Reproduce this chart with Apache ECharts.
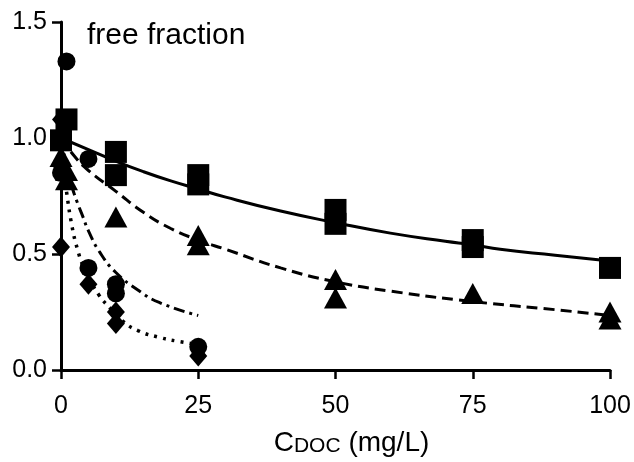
<!DOCTYPE html>
<html>
<head>
<meta charset="utf-8">
<script src="https://cdn.jsdelivr.net/npm/echarts@6/dist/echarts.min.js"></script>
<style>
  html, body { margin: 0; padding: 0; background: #fff; }
  #chart { width: 634px; height: 462px; }
</style>
</head>
<body>
<div id="chart"></div>
<script>
// Axis ticks
const xTicks = [0, 25, 50, 75, 100];
const yTicks = [0, 0.5, 1.0, 1.5];

// Measured free fractions, [C_DOC (mg/L), fraction]
const squarePts   = [[0, 0.99], [1, 1.08], [10, 0.94], [10, 0.84], [25, 0.84], [25, 0.80],
                     [50, 0.69], [50, 0.63], [75, 0.56], [75, 0.53], [100, 0.44]];
const trianglePts = [[0, 0.92], [1, 0.86], [1, 0.82], [10, 0.66], [25, 0.58], [25, 0.54],
                     [50, 0.39], [50, 0.31], [75, 0.33], [100, 0.25], [100, 0.22]];
const circlePts   = [[1, 1.33], [0, 0.85], [5, 0.91], [5, 0.44], [10, 0.37], [10, 0.33], [25, 0.10]];
const diamondPts  = [[0, 1.08], [0, 0.88], [0, 0.53], [5, 0.37], [10, 0.25], [10, 0.20], [25, 0.06]];

// Fitted curves
const solidFit   = [[0, 1.0], [5, 0.95], [10, 0.90], [15, 0.855], [20, 0.815], [25, 0.78], [30, 0.745],
                    [40, 0.685], [50, 0.635], [60, 0.59], [70, 0.555], [75, 0.54], [80, 0.52],
                    [90, 0.495], [100, 0.47]];
const dashedFit  = [[0, 1.0], [2.5, 0.92], [5, 0.86], [10, 0.77], [15, 0.68], [20, 0.61], [25, 0.56],
                    [30, 0.52], [40, 0.44], [50, 0.38], [60, 0.34], [75, 0.295], [90, 0.26], [100, 0.235]];
const dashDotFit = [[0, 1.0], [1, 0.88], [2, 0.79], [3, 0.72], [4, 0.66], [5, 0.60], [7, 0.51],
                    [10, 0.42], [14, 0.345], [18, 0.29], [25, 0.235]];
const dottedFit  = [[0, 1.0], [0.5, 0.87], [1, 0.77], [2, 0.62], [3, 0.52], [4, 0.45], [5, 0.40],
                    [7, 0.32], [9, 0.265], [11, 0.215], [14, 0.17], [18, 0.14], [21, 0.125], [25, 0.11]];

const FONT = '"Liberation Sans", Arial, Helvetica, sans-serif';
const INK = '#000';

function fitLine(data, type, width) {
  return {
    type: 'line', data: data, smooth: true, showSymbol: false, silent: true, z: 2,
    lineStyle: { color: INK, width: width, type: type, cap: 'butt' }
  };
}
function marks(data, symbol, size) {
  return {
    type: 'scatter', data: data, symbol: symbol, symbolSize: size, z: 3,
    itemStyle: { color: INK, opacity: 1 }
  };
}

const chart = echarts.init(document.getElementById('chart'), null, { renderer: 'canvas' });
chart.setOption({
  animation: false,
  backgroundColor: '#fff',
  grid: { left: 61, right: 24, top: 22, bottom: 88, containLabel: false },
  xAxis: {
    type: 'value', min: xTicks[0], max: xTicks[xTicks.length - 1], interval: 25,
    name: '{c|C}{s|DOC}{n| (mg/L)}',
    nameLocation: 'middle', nameGap: 59,
    nameTextStyle: {
      padding: [0, 0, 0, 32],
      rich: {
        c: { fontFamily: FONT, fontSize: 28, color: INK, verticalAlign: 'bottom' },
        s: { fontFamily: FONT, fontSize: 21, color: INK, verticalAlign: 'bottom' },
        n: { fontFamily: FONT, fontSize: 28, color: INK, verticalAlign: 'bottom' }
      }
    },
    axisLine: { show: true, onZero: false, lineStyle: { color: INK, width: 3 } },
    axisTick: { show: true, inside: false, length: 9, lineStyle: { color: INK, width: 2.5 } },
    axisLabel: { color: INK, fontFamily: FONT, fontSize: 25, margin: 24 },
    splitLine: { show: false }
  },
  yAxis: {
    type: 'value', min: yTicks[0], max: yTicks[yTicks.length - 1], interval: 0.5,
    axisLine: { show: true, onZero: false, lineStyle: { color: INK, width: 3 } },
    axisTick: { show: true, inside: false, length: 9, lineStyle: { color: INK, width: 2.5 } },
    axisLabel: {
      color: INK, fontFamily: FONT, fontSize: 25, margin: 14,
      formatter: v => v.toFixed(1)
    },
    splitLine: { show: false }
  },
  graphic: [{
    type: 'text', left: 87, top: 21, z: 10,
    style: { text: 'free fraction', fontFamily: FONT, fontSize: 30, fill: INK }
  }],
  series: [
    fitLine(solidFit, 'solid', 3),
    fitLine(dashedFit, [11, 6], 3),
    fitLine(dashDotFit, [11, 5, 3, 5], 3),
    fitLine(dottedFit, [3, 6], 3.5),
    marks(squarePts, 'rect', 22),
    marks(trianglePts, 'triangle', [23, 21]),
    marks(circlePts, 'circle', 18),
    marks(diamondPts, 'diamond', [18, 21])
  ]
});
</script>
</body>
</html>
